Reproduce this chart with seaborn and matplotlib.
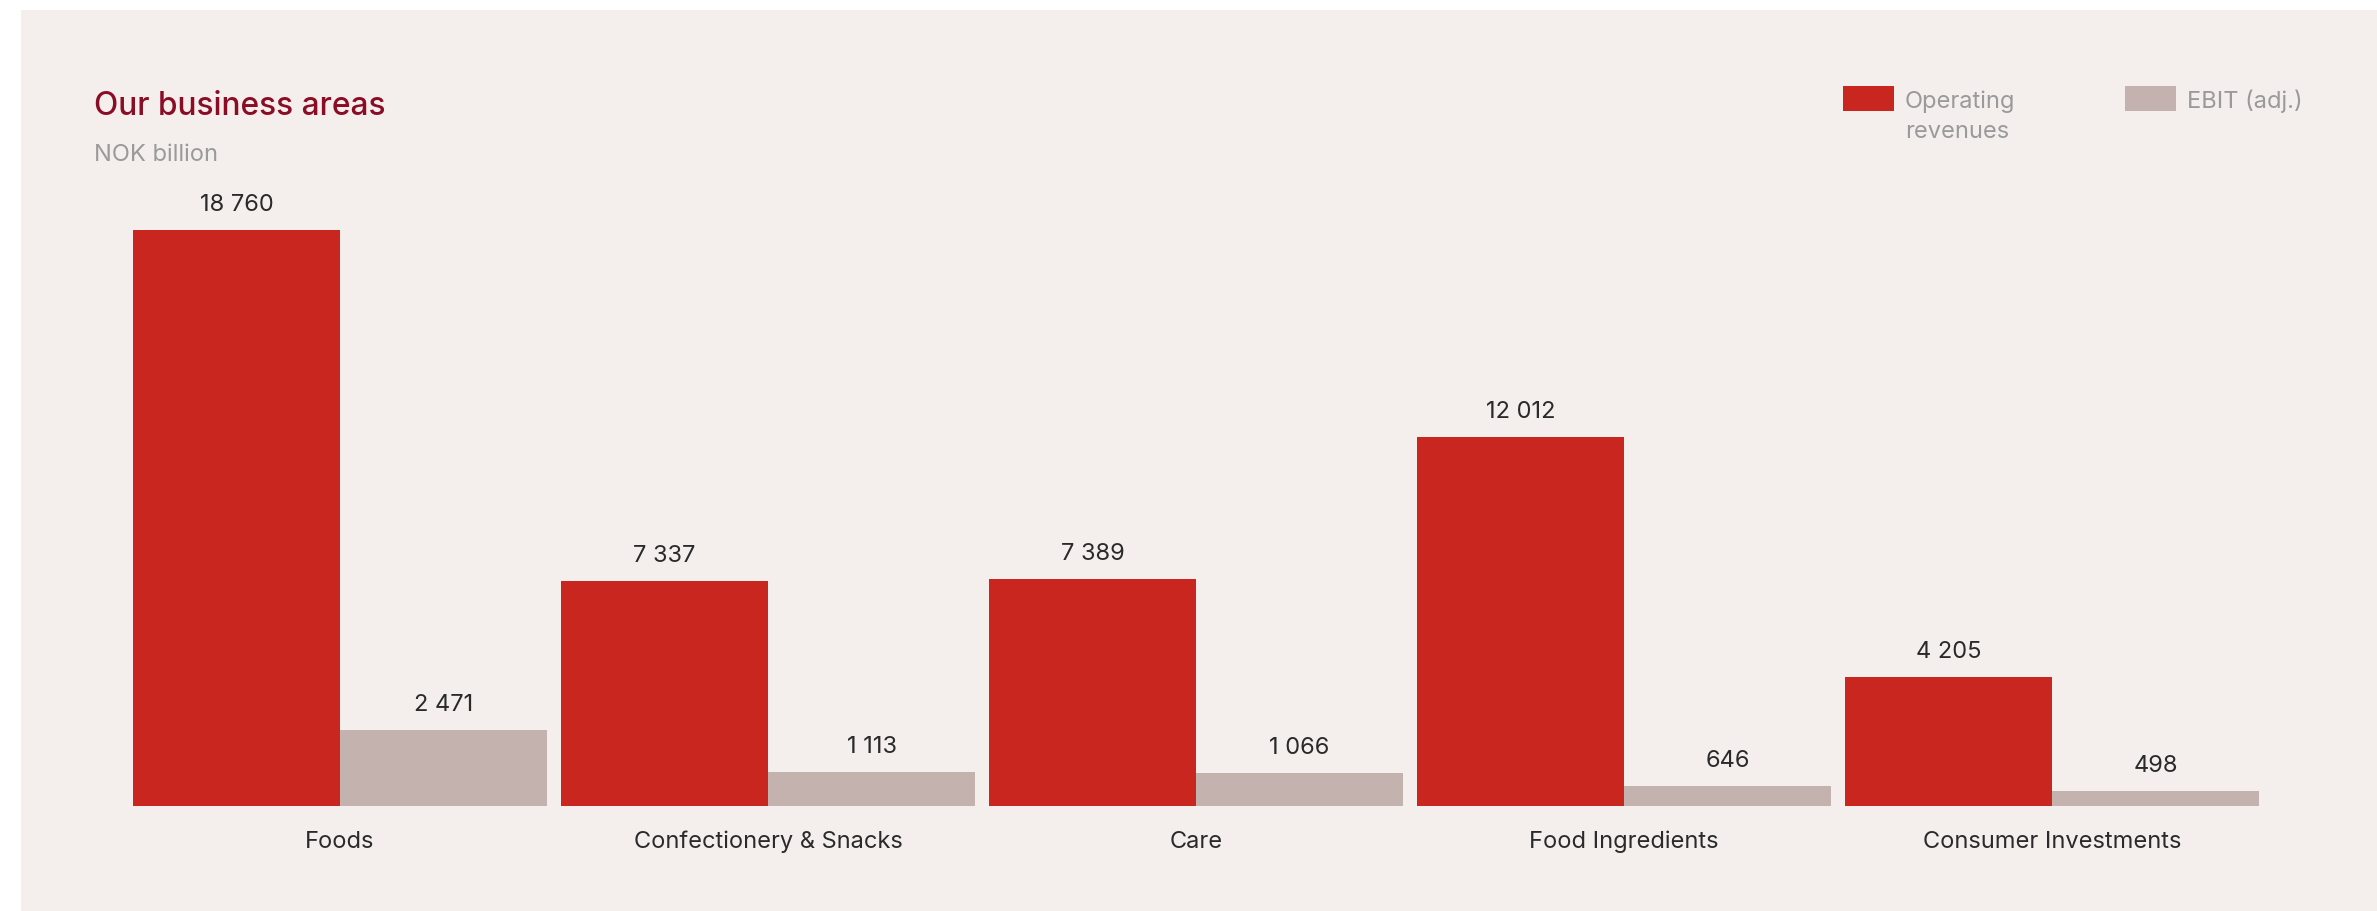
import matplotlib
matplotlib.use("Agg")
import matplotlib.pyplot as plt
from matplotlib.patches import Rectangle
import seaborn as sns
import pandas as pd

# ---- data ----
categories = ["Foods", "Confectionery & Snacks", "Care", "Food Ingredients", "Consumer Investments"]
operating_revenues = [18760, 7337, 7389, 12012, 4205]
ebit_adj = [2471, 1113, 1066, 646, 498]
series_names = ["Operating revenues", "EBIT (adj.)"]
value_labels_rev = ["18 760", "7 337", "7 389", "12 012", "4 205"]
value_labels_ebit = ["2 471", "1 113", "1 066", "646", "498"]

RED = "#C9261F"
TAUPE = "#C4B2AF"
BG = "#F4EFEC"
TITLE_C = "#8A0C25"
GRAY = "#9A9A9A"
DARK = "#2A2A2A"

df = pd.DataFrame({
    "category": categories * 2,
    "series": [series_names[0]] * len(categories) + [series_names[1]] * len(categories),
    "value": operating_revenues + ebit_adj,
})

sns.set_theme(style="white")
plt.rcParams["font.family"] = ["Inter", "DejaVu Sans"]

W, H = 2377, 912
fig = plt.figure(figsize=(W / 100, H / 100), dpi=100, facecolor="white")

def fx(px):
    return px / W

def fy(py):
    return 1 - py / H

# panel background
fig.patches.append(Rectangle((fx(21), 0), 1 - fx(21), fy(11), transform=fig.transFigure,
                             facecolor=BG, edgecolor="none", zorder=-5))

# axes placement (pixels)
ax_left, ax_right = 126, 2266
base_y = 807
px_per_unit = (807 - 231) / 18760.0
ymax = 20000
ax_top = base_y - ymax * px_per_unit
ax = fig.add_axes([fx(ax_left), fy(base_y), fx(ax_right - ax_left), (base_y - ax_top) / H])
ax.set_facecolor("none")
ax.set_zorder(2)

sns.barplot(data=df, x="category", y="value", hue="series", order=categories,
            hue_order=series_names, palette=[RED, TAUPE], width=0.968, gap=0,
            dodge=True, saturation=1, legend=False, ax=ax, linewidth=0)

ax.set_xlim(-0.5, len(categories) - 0.5)
ax.set_ylim(0, ymax)
for s in ax.spines.values():
    s.set_visible(False)
ax.set_yticks([])
ax.set_xlabel("")
ax.set_ylabel("")
ax.tick_params(axis="x", length=0, pad=17, labelsize=17, labelcolor=DARK)

# value labels
labels_all = [value_labels_rev, value_labels_ebit]
for cont, labs in zip(ax.containers, labels_all):
    for bar, lab in zip(cont, labs):
        ax.annotate(lab, (bar.get_x() + bar.get_width() / 2, bar.get_height()),
                    xytext=(0, 20), textcoords="offset pixels", ha="center", va="baseline",
                    fontsize=17, color=DARK)

# title & subtitle
fig.text(fx(94), fy(115), "Our business areas", fontsize=22.8, color=TITLE_C,
         ha="left", va="baseline", fontweight="medium")
fig.text(fx(94), fy(161), "NOK billion", fontsize=17, color=GRAY, ha="left", va="baseline")

# legend
for (x0, col, lines) in [(1843, RED, ["Operating", "revenues"]), (2125, TAUPE, ["EBIT (adj.)"])]:
    fig.patches.append(Rectangle((fx(x0), fy(112)), fx(51), 25 / H, transform=fig.transFigure,
                                 facecolor=col, edgecolor="none", zorder=2))
    for i, t in enumerate(lines):
        fig.text(fx(x0 + 62), fy(108 + 30 * i), t, fontsize=17, color=GRAY, ha="left",
                 va="baseline")

fig.savefig("out.png", dpi=100, facecolor="white")
